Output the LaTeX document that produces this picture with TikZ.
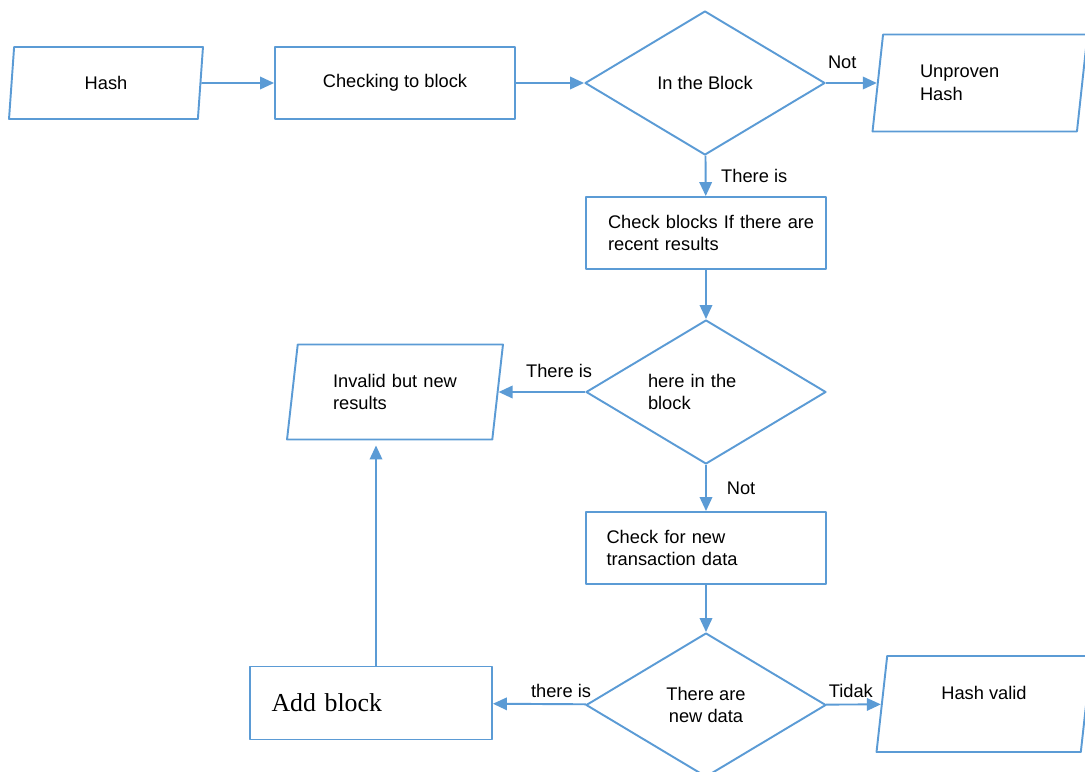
\documentclass[tikz,border=0pt]{standalone}
\usepackage{fontspec}
\setmainfont{Liberation Sans}
\newfontfamily\addserif{Liberation Serif}
\usetikzlibrary{shapes.geometric,arrows.meta}
\definecolor{flowblue}{HTML}{5B9BD5}

\begin{document}
\begin{tikzpicture}[x=0.02cm, y=-0.02cm, line join=round,
  font=\fontsize{10.4}{12.8}\selectfont,
  proc/.style={draw=flowblue, line width=1.1pt, rectangle, minimum width=4.8cm, minimum height=1.44cm, inner sep=0pt},
  io/.style={draw=flowblue, line width=1.1pt, trapezium, trapezium left angle=76, trapezium right angle=104, trapezium stretches body, inner sep=2pt},
  dec/.style={draw=flowblue, line width=1.1pt, diamond, aspect=1.65, minimum width=4.8cm, minimum height=2.88cm, inner sep=1pt},
  arr/.style={draw=flowblue, line width=1.1pt, -{Triangle[length=0.28cm, width=0.25cm]}}]
      \useasboundingbox (0,0) rectangle (1085,771);

      \node[io, minimum width=3.88cm, minimum height=1.44cm] (i1) at (106,83) {Hash};
      \node[proc] (p1) at (395,83) {Checking to block};
      \node[dec] (d1) at (705,83) {In the Block};
      \node[io, minimum width=4.3cm, minimum height=1.94cm, text width=2.4cm, align=left] (i2) at (980,83) {Unproven\\Hash};

      \node[proc, text width=3.92cm, align=left] (p2) at (706,233) {\mbox{Check blocks If there are}\\recent results};
      \node[dec, text width=2.32cm, align=left] (d2) at (706,392) {here in the\\block};
      \node[io, minimum width=4.32cm, minimum height=1.9cm, text width=2.48cm, align=left] (i3) at (395,392) {Invalid but new\\results};

      \node[proc, text width=3.98cm, align=left] (p3) at (706,548) {Check for new\\transaction data};
      \node[dec, align=center] (d3) at (706,705) {There are\\new data};
      \node[proc, minimum width=4.84cm, minimum height=1.46cm, text width=3.98cm, align=left, font=\addserif\fontsize{14.7}{17}\selectfont] (p4) at (371,703) {Add block};
      \node[io, minimum width=4.3cm, minimum height=1.92cm, align=center] (i4) at (984,704) {Hash valid\\\mbox{}};

      \draw[arr] (i1) -- (p1);
      \draw[arr] (p1) -- (d1);
      \draw[arr] (d1) -- node[above=4pt, pos=0.32]{Not} (i2);
      \draw[arr] (d1) -- node[right=5pt]{There is} (p2);
      \draw[arr] (p2) -- (d2);
      \draw[arr] (d2) -- node[above=4pt, pos=0.3]{There is} (i3);
      \draw[arr] (d2) -- node[right=8pt]{Not} (p3);
      \draw[arr] (p3) -- (d3);
      \draw[arr] (d3) -- node[above, pos=0.27]{there is} (p4);
      \draw[arr] (d3) -- node[above, pos=0.45]{Tidak} (i4);
      \draw[arr, shorten >=0.1cm] ([xshift=0.1cm]p4.north) -- ([xshift=0.1cm]p4.north |- i3.south);
    \end{tikzpicture}
\end{document}
